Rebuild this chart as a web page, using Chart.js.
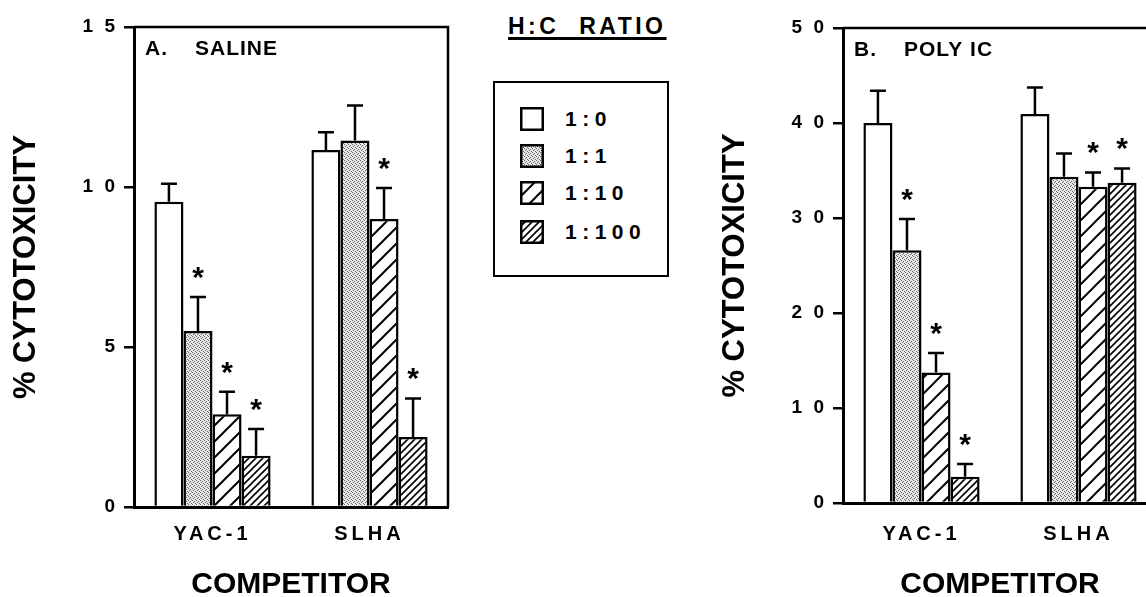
<!DOCTYPE html>
<html><head><meta charset="utf-8">
<script src="https://cdn.jsdelivr.net/npm/chart.js@4"></script>
<style>
html,body{margin:0;padding:0;background:#fff;}
#wrap{position:relative;width:1146px;height:597px;overflow:hidden;background:#fff;}
canvas.cv{position:absolute;top:0;}
#legTitle{position:absolute;left:508px;top:13px;font:bold 23px "Liberation Sans",Arial,sans-serif;letter-spacing:3.5px;white-space:pre;color:#000;
  text-decoration:underline;text-decoration-thickness:2.5px;text-underline-offset:3px;}
#legBox{position:absolute;left:493px;top:81px;width:176px;height:196px;box-sizing:border-box;border:2.5px solid #000;}
.legRow{position:absolute;left:520px;height:24px;}
.legRow canvas{position:absolute;left:0;top:0;}
.legRow span{position:absolute;left:45px;top:0;line-height:24px;font:bold 21px "Liberation Sans",Arial,sans-serif;letter-spacing:5.5px;white-space:pre;color:#000;}
</style>
</head><body>
<div id="wrap">
  <canvas id="cA" class="cv" width="470" height="597" style="left:0px"></canvas>
  <canvas id="cB" class="cv" width="470" height="597" style="left:709px"></canvas>
  <div id="legTitle"></div>
  <div id="legBox"></div>
</div>
<script>
// ---------- DATA ----------
const categories = ["YAC-1", "SLHA"];
const ratioLabels = ["1:0", "1:1", "1:10", "1:100"];
const legendTitle = "H:C  RATIO";

// Panel A: saline  (per ratio: [YAC-1, SLHA])
const salineMeans = [[9.54, 11.16], [5.5, 11.45], [2.9, 9.0], [1.6, 2.19]];
const salineSem   = [[0.56, 0.55], [1.06, 1.1], [0.7, 0.97], [0.84, 1.2]];
const salineStars = [[0, 0], [1, 0], [1, 1], [1, 1]];
const salineTicks = ["0", "5", "1 0", "1 5"];

// Panel B: poly IC
const polyMeans = [[40.0, 40.95], [26.6, 34.35], [13.75, 33.3], [2.77, 33.7]];
const polySem   = [[3.4, 2.8], [3.3, 2.45], [2.05, 1.5], [1.33, 1.5]];
const polyStars = [[0, 0], [1, 0], [1, 1], [1, 1]];
const polyTicks = ["0", "1 0", "2 0", "3 0", "4 0", "5 0"];

const yTitle = "% CYTOTOXICITY";
const xTitle = "COMPETITOR";
// ---------------------------

const FONT = '"Liberation Sans", Arial, Helvetica, sans-serif';
Chart.defaults.font.family = FONT;
Chart.defaults.color = '#000';

function makeFills(ctx) {
  function tile(s) { const c = document.createElement('canvas'); c.width = c.height = s; return c; }
  function hatch(s, lw) {
    const c = tile(s), x = c.getContext('2d');
    x.fillStyle = '#fff'; x.fillRect(0, 0, s, s);
    x.strokeStyle = '#000'; x.lineWidth = lw;
    x.beginPath();
    for (const k of [0, s, 2 * s]) { x.moveTo(k + s, -s); x.lineTo(k - 2 * s, 2 * s); }
    x.stroke();
    return ctx.createPattern(c, 'repeat');
  }
  function stipple() {
    const c = tile(4), x = c.getContext('2d');
    x.fillStyle = '#e8e8e8'; x.fillRect(0, 0, 4, 4);
    x.fillStyle = '#666';
    [[0, 0], [2, 1], [1, 2], [3, 3]].forEach(p => x.fillRect(p[0], p[1], 1, 1));
    return ctx.createPattern(c, 'repeat');
  }
  return ['#ffffff', stipple(), hatch(16, 2), hatch(7, 1.6)];
}

const spacing = {
  id: 'spacing',
  beforeDraw(chart) {
    ['x', 'y'].forEach(id => {
      const s = chart.scales[id];
      if (s && !s._sp) {
        const orig = s.drawLabels.bind(s);
        const ls = id === 'x' ? '4px' : '3px';
        s.drawLabels = function (area) {
          const c = this.ctx; c.save(); c.letterSpacing = ls; orig(area); c.restore();
        };
        s._sp = true;
      }
    });
  }
};

const frame = {
  id: 'frame',
  afterDraw(chart, args, opts) {
    const { ctx, chartArea: a } = chart;
    ctx.save();
    ctx.strokeStyle = '#000'; ctx.lineWidth = 2.5;
    ctx.beginPath();
    ctx.moveTo(a.left, a.top); ctx.lineTo(a.right, a.top); ctx.lineTo(a.right, a.bottom);
    ctx.stroke();
    ctx.fillStyle = '#000';
    ctx.font = 'bold 21px ' + FONT;
    ctx.letterSpacing = '1px';
    ctx.textBaseline = 'middle';
    ctx.textAlign = 'left';
    ctx.fillText(opts.text[0], a.left + 11, a.top + 22);
    ctx.fillText(opts.text[1], a.left + 61, a.top + 22);
    ctx.restore();
  }
};

const errbars = {
  id: 'errbars',
  afterDatasetsDraw(chart) {
    const { ctx } = chart; const ys = chart.scales.y;
    ctx.save();
    ctx.strokeStyle = '#000'; ctx.fillStyle = '#000'; ctx.lineWidth = 2.5;
    chart.data.datasets.forEach((ds, i) => {
      const meta = chart.getDatasetMeta(i);
      meta.data.forEach((bar, j) => {
        const top = ys.getPixelForValue(ds.data[j] + ds.sem[j]);
        ctx.beginPath();
        ctx.moveTo(bar.x, bar.y); ctx.lineTo(bar.x, top);
        ctx.moveTo(bar.x - 8, top); ctx.lineTo(bar.x + 8, top);
        ctx.stroke();
        if (ds.stars[j]) {
          const size = 30, cy = top - 27;
          ctx.font = 'bold ' + size + 'px ' + FONT;
          ctx.textAlign = 'center'; ctx.textBaseline = 'alphabetic';
          ctx.fillText('*', bar.x, cy + 0.56 * size);
        }
      });
    });
    ctx.restore();
  }
};

function makeChart(id, means, sem, stars, ticks, maxY, step, panelText, padTop, plotBottom) {
  const cv = document.getElementById(id);
  const ctx = cv.getContext('2d');
  const fills = makeFills(ctx);
  const H = 597;
  return new Chart(ctx, {
    type: 'bar',
    data: {
      labels: categories,
      datasets: ratioLabels.map((lab, i) => ({
        label: lab,
        data: means[i],
        sem: sem[i],
        stars: stars[i],
        backgroundColor: fills[i],
        borderColor: '#000',
        borderWidth: 2.5,
        borderSkipped: 'bottom',
        barPercentage: 1,
        categoryPercentage: 0.74
      }))
    },
    options: {
      responsive: false,
      animation: false,
      events: [],
      layout: { padding: { left: 0, right: 22, top: padTop, bottom: 0 } },
      plugins: { legend: { display: false }, tooltip: { enabled: false }, frame: { text: panelText } },
      scales: {
        x: {
          grid: { display: false },
          border: { display: true, color: '#000', width: 3 },
          ticks: { font: { size: 20, weight: 'bold' }, padding: 7 + (507 - plotBottom), color: '#000' },
          title: { display: true, text: xTitle, font: { size: 30, weight: 'bold', lineHeight: 1 }, padding: { top: 0, bottom: -3 }, color: '#000' },
          afterFit(s) { s.height = H - plotBottom; }
        },
        y: {
          min: 0, max: maxY,
          grid: { display: true, drawOnChartArea: false, drawTicks: true, tickLength: 10, lineWidth: 2.5, color: '#000' },
          border: { display: true, color: '#000', width: 3 },
          ticks: {
            stepSize: step, padding: 6, color: '#000',
            font: { size: 19, weight: 'bold' },
            callback: (v, i) => ticks[i]
          },
          title: { display: true, text: yTitle, font: { size: 31, weight: 'bold', lineHeight: 1 }, padding: { top: 11, bottom: 0 }, color: '#000' },
          afterFit(s) { s.width = 134; }
        }
      }
    },
    plugins: [spacing, frame, errbars]
  });
}

makeChart('cA', salineMeans, salineSem, salineStars, salineTicks, 15, 5, ["A.", "SALINE"], 27, 507);
makeChart('cB', polyMeans, polySem, polyStars, polyTicks, 50, 10, ["B.", "POLY IC"], 28, 503);

// Legend
document.getElementById('legTitle').textContent = legendTitle;
(function () {
  const wrap = document.getElementById('wrap');
  const rowY = [107, 144, 181, 220];
  ratioLabels.forEach((lab, i) => {
    const row = document.createElement('div');
    row.className = 'legRow';
    row.style.top = rowY[i] + 'px';
    const c = document.createElement('canvas');
    c.width = 24; c.height = 24;
    const x = c.getContext('2d');
    const fills = makeFills(x);
    x.fillStyle = fills[i]; x.fillRect(0, 0, 24, 24);
    x.strokeStyle = '#000'; x.lineWidth = 2.5; x.strokeRect(1.25, 1.25, 21.5, 21.5);
    const sp = document.createElement('span');
    sp.textContent = lab;
    row.appendChild(c); row.appendChild(sp);
    wrap.appendChild(row);
  });
})();
</script>
</body></html>
